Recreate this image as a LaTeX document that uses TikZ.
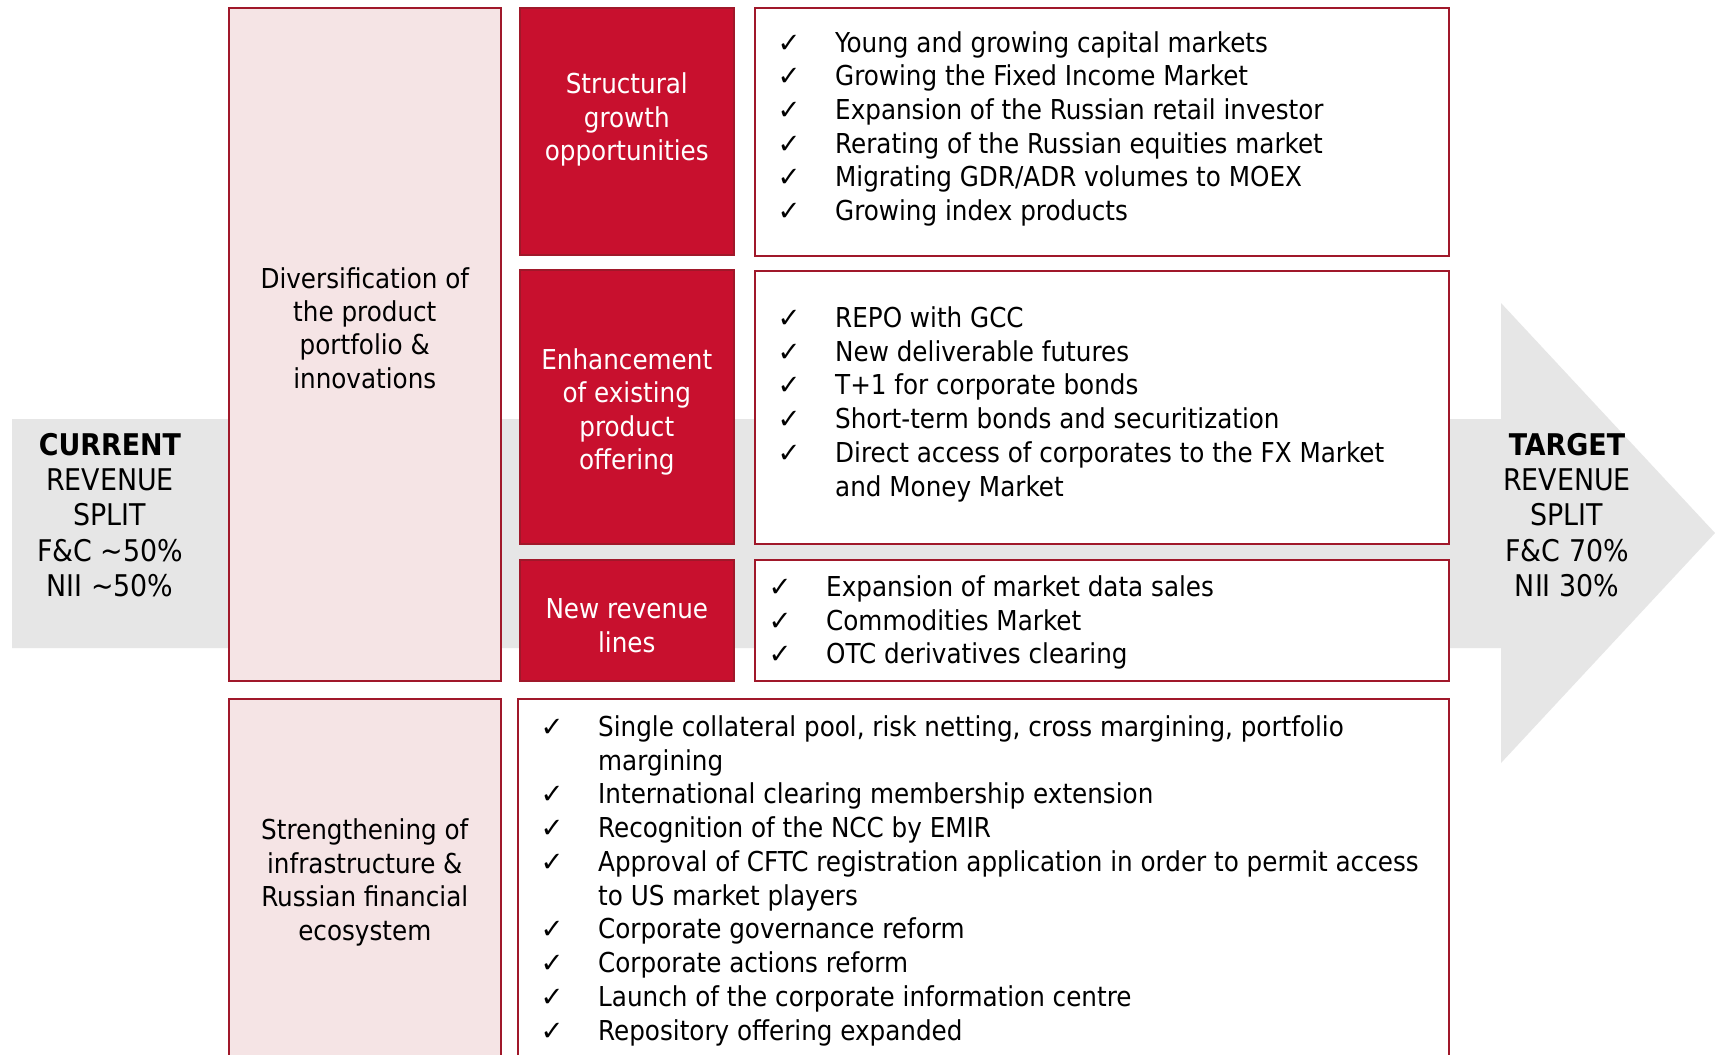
\documentclass[tikz,border=0pt]{standalone}
\usepackage{fontspec}
\setmainfont{DejaVu Sans Condensed}
\newfontfamily\chkfont{DejaVu Sans}
\usepackage{array}

\definecolor{mxred}{RGB}{200,16,46}
\definecolor{mxline}{RGB}{160,24,42}
\definecolor{mxpink}{RGB}{245,228,229}
\definecolor{mxgray}{RGB}{230,230,230}

\newcommand{\ck}{{\chkfont\char"2713}}

\tikzset{
  boxtext/.style={align=center,inner sep=0,font=\fontsize{7.8pt}{9.5pt}\selectfont},
  listtext/.style={inner sep=0,anchor=base west,font=\fontsize{7.8pt}{9.6pt}\selectfont},
  splittext/.style={align=center,inner sep=0,font=\fontsize{8.5pt}{10pt}\selectfont},
  pinkbox/.style={draw=mxline,fill=mxpink,line width=0.2mm},
  redbox/.style={draw=mxline,fill=mxred,line width=0.2mm},
  whitebox/.style={draw=mxline,fill=white,line width=0.2mm},
}

\begin{document}
\begin{tikzpicture}[x=0.1mm,y=-0.1mm]
\clip (0,0) rectangle (1715,1055);
\fill[white] (0,0) rectangle (1715,1055);

% big gray arrow
\fill[mxgray] (12,419) -- (1501,419) -- (1501,303) -- (1715,533)
  -- (1501,763) -- (1501,648) -- (12,648) -- cycle;

% boxes
\draw[pinkbox]  (228.6,7.7)  rectangle (501,681);
\draw[pinkbox]  (228.6,699)  rectangle (501,1065);
\draw[redbox]   (519.5,7.7)  rectangle (734,255);
\draw[redbox]   (519.5,270)  rectangle (734,543.6);
\draw[redbox]   (519.5,560)  rectangle (734,681);
\draw[whitebox] (754.5,7.7)  rectangle (1449,255.7);
\draw[whitebox] (754.5,270.7) rectangle (1449,543.6);
\draw[whitebox] (754.5,560)  rectangle (1449,681);
\draw[whitebox] (518,699)    rectangle (1449,1065);

% revenue split
\node[splittext] (cur) at (110,515)
  {\textbf{CURRENT}\\REVENUE\\SPLIT\\F\&C \textasciitilde50\%\\NII \textasciitilde50\%};
\node[splittext] (tgt) at (1567,515)
  {\textbf{TARGET}\\REVENUE\\SPLIT\\F\&C 70\%\\NII 30\%};

% left column
\node[boxtext] (div) at (364.8,328)
  {Diversification of\\the product\\portfolio \&\\innovations};
\node[boxtext] (infra) at (364.8,882.5)
  {Strengthening of\\infrastructure \&\\Russian financial\\ecosystem};

% red column
\node[boxtext,text=white] (grow) at (626.8,119.5)
  {Structural\\growth\\opportunities};
\node[boxtext,text=white] (enh) at (626.8,412)
  {Enhancement\\of existing\\product\\offering};
\node[boxtext,text=white] (newrev) at (626.8,625.5)
  {New revenue\\lines};

% lists
\node[listtext] (list1) at (777,52) {\begin{tabular}[t]{@{}p{5.75mm}@{}l@{}}
  \ck & Young and growing capital markets\\
  \ck & Growing the Fixed Income Market\\
  \ck & Expansion of the Russian retail investor\\
  \ck & Rerating of the Russian equities market\\
  \ck & Migrating GDR/ADR volumes to MOEX\\
  \ck & Growing index products
\end{tabular}};
\node[listtext] (list2) at (777,327.5) {\begin{tabular}[t]{@{}p{5.75mm}@{}l@{}}
  \ck & REPO with GCC\\
  \ck & New deliverable futures\\
  \ck & T+1 for corporate bonds\\
  \ck & Short-term bonds and securitization\\
  \ck & Direct access of corporates to the FX Market\\
      & and Money Market
\end{tabular}};
\node[listtext] (list3) at (768,596.5) {\begin{tabular}[t]{@{}p{5.75mm}@{}l@{}}
  \ck & Expansion of market data sales\\
  \ck & Commodities Market\\
  \ck & OTC derivatives clearing
\end{tabular}};
\node[listtext] (list4) at (540,736.5) {\begin{tabular}[t]{@{}p{5.75mm}@{}l@{}}
  \ck & Single collateral pool, risk netting, cross margining, portfolio\\
      & margining\\
  \ck & International clearing membership extension\\
  \ck & Recognition of the NCC by EMIR\\
  \ck & Approval of CFTC registration application in order to permit access\\
      & to US market players\\
  \ck & Corporate governance reform\\
  \ck & Corporate actions reform\\
  \ck & Launch of the corporate information centre\\
  \ck & Repository offering expanded
\end{tabular}};

\end{tikzpicture}
\end{document}
